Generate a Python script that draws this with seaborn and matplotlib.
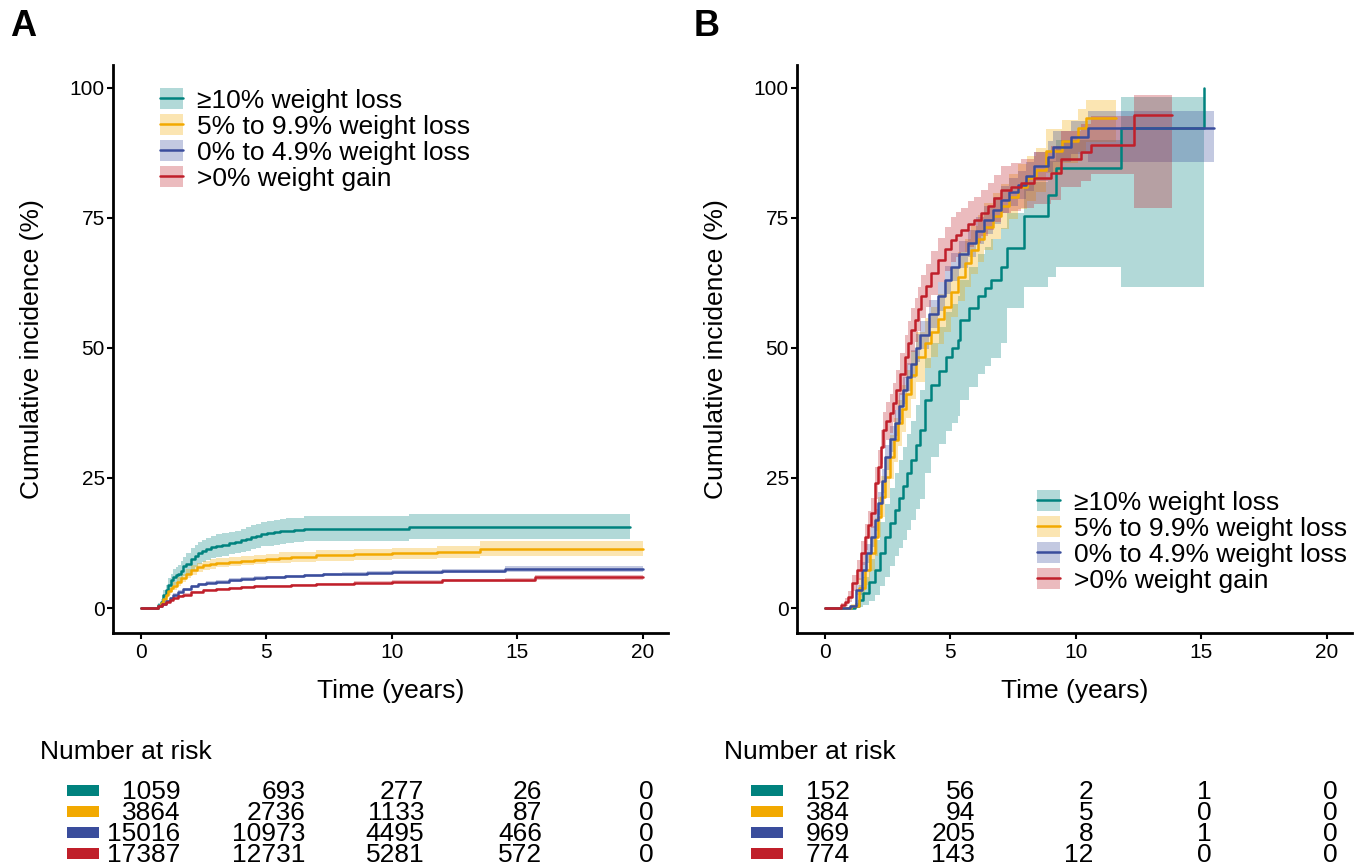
import matplotlib
matplotlib.use("Agg")
import matplotlib.pyplot as plt
import matplotlib.transforms as mtransforms
from matplotlib.font_manager import FontProperties
from matplotlib.patches import Patch, Rectangle
from matplotlib.lines import Line2D
import numpy as np
import seaborn as sns

sns.set_theme(style="ticks")
plt.rcParams['font.family'] = ['Liberation Sans', 'DejaVu Sans']
plt.rcParams['axes.edgecolor'] = 'black'
plt.rcParams['xtick.color'] = 'black'
plt.rcParams['ytick.color'] = 'black'
plt.rcParams['text.color'] = 'black'
plt.rcParams['axes.labelcolor'] = 'black'

# groups and colours
groups = ["≥10% weight loss", "5% to 9.9% weight loss", "0% to 4.9% weight loss", ">0% weight gain"]
colors = ["#00827E", "#F2A900", "#3A4D9C", "#C01F2A"]

# ---- panel A: cumulative incidence (%), with CI half-widths ----
a_teal_t = [0, 0.7, 0.8, 0.9, 1.0, 1.1, 1.2, 1.3, 1.4, 1.5, 1.6, 1.7, 1.8, 2.0, 2.15, 2.3, 2.45, 2.6, 2.8, 3.0,
            3.25, 3.5, 3.75, 4.0, 4.2, 4.4, 4.6, 4.8, 5.05, 5.3, 5.55, 5.8, 6.1, 6.5, 10.7, 19.5]
a_teal_v = [0, 0.5, 1.2, 2.5, 3.5, 4.5, 5.3, 6.0, 6.3, 6.5, 7.2, 8.0, 8.5, 9.5, 10.0, 10.5, 10.9, 11.3, 11.7, 12.0,
            12.2, 12.5, 12.7, 13.0, 13.3, 13.6, 13.9, 14.2, 14.4, 14.6, 14.8, 14.9, 15.0, 15.2, 15.6, 15.6]
a_teal_half = [0, 0.4, 0.6, 0.9, 1.0, 1.2, 1.3, 1.5, 1.6, 1.7, 1.8, 1.9, 2.0, 2.1, 2.1, 2.1, 2.1, 2.1, 2.1, 2.2,
               2.2, 2.2, 2.2, 2.2, 2.3, 2.3, 2.3, 2.3, 2.4, 2.4, 2.4, 2.4, 2.4, 2.4, 2.4, 2.4]

a_orange_t = [0, 0.7, 0.8, 0.9, 1.0, 1.1, 1.2, 1.3, 1.45, 1.6, 1.8, 2.0, 2.25, 2.5, 2.75, 3.0, 3.5, 4.0, 4.5, 5.0,
              5.5, 6.0, 7.0, 8.5, 10.0, 11.8, 13.5, 20.0]
a_orange_v = [0, 0.4, 1.0, 1.8, 2.5, 3.2, 3.8, 4.3, 5.1, 5.8, 6.6, 7.3, 7.8, 8.2, 8.5, 8.7, 8.9, 9.1, 9.3, 9.5,
              9.7, 9.8, 10.1, 10.3, 10.5, 10.8, 11.4, 11.4]
a_orange_half = [0, 0.2, 0.3, 0.5, 0.6, 0.7, 0.7, 0.8, 0.8, 0.8, 0.9, 0.9, 0.9, 0.9, 0.9, 0.9, 0.9, 0.9, 0.9, 0.9,
                 1.0, 1.0, 1.0, 1.0, 1.1, 1.1, 1.4, 1.4]

a_blue_t = [0, 0.7, 0.85, 1.0, 1.15, 1.3, 1.5, 1.7, 2.0, 2.3, 2.6, 3.0, 3.5, 4.0, 4.5, 5.0, 5.75, 6.5, 7.25, 8.0,
            9.0, 10.0, 11.0, 12.0, 14.5, 20.0]
a_blue_v = [0, 0.3, 0.8, 1.3, 1.9, 2.5, 3.1, 3.6, 4.2, 4.6, 4.9, 5.1, 5.4, 5.6, 5.8, 5.9, 6.1, 6.3, 6.5, 6.6,
            6.8, 6.9, 7.0, 7.1, 7.5, 7.5]
a_blue_half = [0, 0.1, 0.1, 0.2, 0.2, 0.3, 0.3, 0.3, 0.3, 0.3, 0.3, 0.3, 0.3, 0.3, 0.3, 0.3, 0.3, 0.3, 0.3, 0.3,
               0.35, 0.4, 0.4, 0.4, 0.5, 0.5]

a_red_t = [0, 0.7, 0.85, 1.0, 1.15, 1.3, 1.5, 1.7, 2.0, 2.5, 3.0, 3.5, 4.0, 4.5, 5.0, 6.0, 7.0, 8.5, 10.0, 12.0,
           14.5, 15.7, 20.0]
a_red_v = [0, 0.3, 0.7, 1.2, 1.6, 1.9, 2.3, 2.6, 3.0, 3.4, 3.7, 3.9, 4.0, 4.2, 4.3, 4.5, 4.7, 4.9, 5.1, 5.3,
           5.4, 5.9, 5.9]
a_red_half = [0, 0.1, 0.15, 0.2, 0.2, 0.2, 0.2, 0.2, 0.2, 0.2, 0.2, 0.2, 0.2, 0.2, 0.2, 0.2, 0.2, 0.25, 0.3, 0.3,
              0.35, 0.5, 0.5]

# ---- panel B: cumulative incidence (%), CI lower / upper ----
b_teal_t = [0, 1.2, 1.37, 1.53, 1.77, 2.0, 2.2, 2.4, 2.6, 2.8, 2.96, 3.13, 3.3, 3.45, 3.62, 3.78, 3.98, 4.25,
            4.55, 4.84, 5.07, 5.3, 5.4, 5.75, 6.1, 6.37, 6.63, 7.02, 7.27, 7.93, 8.9, 9.2, 11.8, 15.1]
b_teal_v = [0, 0.3, 1.5, 2.9, 5.0, 7.3, 10.5, 13.7, 16.3, 18.9, 21.2, 23.4, 26.0, 28.5, 31.4, 34.3, 40.0, 42.9,
            45.6, 48.3, 50.0, 51.5, 55.4, 57.6, 59.9, 61.5, 63.0, 65.6, 69.2, 75.4, 79.4, 84.6, 92.2, 100]
b_teal_lo = [0, 0, 0.2, 0.5, 1.4, 2.5, 4.2, 6.0, 8.0, 10.0, 11.5, 13.0, 15.0, 17.0, 19.0, 21.0, 26.0, 29.0,
             31.5, 34.0, 35.5, 37.0, 40.0, 42.5, 45.0, 46.5, 48.0, 51.0, 57.7, 61.8, 63.7, 65.6, 61.8, 61.8]
b_teal_hi = [0, 1.0, 3.5, 6.0, 9.5, 13.0, 16.5, 20.0, 23.0, 26.0, 28.5, 31.0, 33.5, 36.0, 39.0, 42.0, 48.0, 51.0,
             54.0, 57.0, 58.5, 60.0, 63.0, 65.5, 68.0, 69.5, 71.0, 73.0, 76.0, 82.0, 86.0, 90.0, 98.3, 98.3]

b_orange_t = [0, 1.07, 1.35, 1.6, 1.8, 2.0, 2.13, 2.26, 2.42, 2.59, 2.76, 2.93, 3.1, 3.26, 3.45, 3.65, 3.98, 4.25,
              4.51, 4.77, 5.04, 5.3, 5.57, 5.83, 6.1, 6.36, 6.7, 7.02, 7.35, 7.69, 8.05, 8.41, 8.8, 9.47, 10.07,
              10.4, 11.6]
b_orange_v = [0, 0.3, 3.8, 7.3, 10.5, 13.7, 17.5, 21.4, 25.2, 29.0, 32.3, 35.5, 38.3, 41.2, 44.8, 48.3, 51.0, 53.0,
              55.5, 57.9, 60.8, 63.7, 66.3, 68.8, 71.0, 73.3, 75.3, 77.2, 79.1, 81.0, 82.6, 84.2, 87.8, 89.7, 92.2,
              94.2, 94.2]
b_orange_lo = [0, 0, 1.8, 4.5, 7.2, 10.0, 13.7, 17.5, 21.2, 24.8, 28.0, 31.1, 33.8, 36.6, 40.1, 43.5, 46.2, 48.2,
               50.7, 53.1, 56.0, 59.0, 61.7, 64.2, 66.5, 68.8, 70.9, 72.8, 74.8, 76.7, 78.3, 79.9, 83.6, 85.5, 87.7,
               89.6, 89.6]
b_orange_hi = [0, 0.7, 5.8, 10.1, 13.8, 17.4, 21.3, 25.3, 29.2, 33.2, 36.6, 39.9, 42.8, 45.8, 49.5, 53.1, 55.8, 57.8,
               60.3, 62.7, 65.6, 68.4, 70.9, 73.4, 75.5, 77.8, 79.7, 81.6, 83.4, 85.3, 86.9, 88.5, 92.0, 93.9, 95.9,
               97.7, 97.7]

b_blue_t = [0, 1.0, 1.25, 1.47, 1.66, 1.86, 2.0, 2.13, 2.27, 2.4, 2.6, 2.8, 2.96, 3.13, 3.3, 3.45, 3.62, 3.8,
            4.15, 4.51, 4.78, 5.04, 5.37, 5.7, 6.03, 6.36, 6.7, 7.02, 7.35, 7.69, 8.02, 8.35, 8.88, 9.1, 9.8,
            10.5, 15.5]
b_blue_v = [0, 0.3, 3.5, 7.3, 10.5, 13.7, 17.0, 20.1, 24.5, 29.0, 32.5, 35.5, 38.8, 41.9, 44.5, 47.0, 50.0, 52.5,
            56.5, 59.9, 63.0, 65.6, 68.0, 70.1, 72.5, 74.6, 76.5, 78.5, 80.0, 81.4, 83.0, 84.9, 86.8, 88.7, 90.5,
            92.2, 92.2]
b_blue_lo = [0, 0.1, 2.5, 5.8, 8.7, 11.7, 14.9, 17.9, 22.2, 26.6, 30.0, 33.0, 36.2, 39.3, 41.8, 44.3, 47.3, 49.8,
             53.8, 57.2, 60.3, 62.9, 65.4, 67.5, 69.9, 72.0, 73.9, 75.9, 77.3, 78.7, 80.2, 82.1, 83.8, 85.7, 87.3,
             85.8, 85.8]
b_blue_hi = [0, 0.5, 4.5, 8.8, 12.3, 15.7, 19.1, 22.3, 26.8, 31.4, 35.0, 38.0, 41.4, 44.5, 47.2, 49.7, 52.7, 55.2,
             59.2, 62.6, 65.7, 68.3, 70.6, 72.7, 75.1, 77.2, 79.1, 81.1, 82.7, 84.1, 85.8, 87.7, 89.8, 91.7, 93.7,
             95.6, 95.6]

b_red_t = [0, 0.67, 0.8, 0.94, 1.1, 1.27, 1.45, 1.6, 1.73, 1.86, 2.02, 2.13, 2.23, 2.33, 2.46, 2.59, 2.72, 2.86,
           3.02, 3.19, 3.32, 3.45, 3.6, 3.72, 3.85, 4.05, 4.25, 4.51, 4.78, 5.04, 5.24, 5.44, 5.7, 5.96, 6.23, 6.5,
           6.76, 7.02, 7.42, 7.82, 8.35, 9.0, 9.4, 10.2, 10.6, 12.3, 13.85]
b_red_v = [0, 0.5, 1.2, 2.2, 4.8, 7.3, 10.5, 13.7, 16.0, 18.2, 24.0, 27.2, 31.0, 34.2, 36.0, 37.4, 39.5, 41.9,
           45.0, 48.3, 51.0, 53.5, 55.4, 57.5, 59.9, 62.0, 64.4, 66.9, 69.0, 70.8, 71.8, 72.7, 73.8, 74.6, 76.0, 77.2,
           78.8, 80.4, 81.0, 81.7, 82.6, 83.6, 86.3, 87.6, 89.0, 94.7, 94.7]
b_red_lo = [0, 0, 0.4, 1.2, 3.3, 5.3, 8.2, 11.2, 13.3, 15.3, 20.9, 24.0, 27.7, 30.7, 32.4, 33.7, 35.7, 38.0,
            41.0, 44.2, 46.8, 49.3, 51.2, 53.3, 55.7, 57.8, 60.2, 62.7, 64.8, 66.5, 67.5, 68.4, 69.4, 70.2, 71.6, 72.7,
            74.3, 75.9, 76.4, 77.0, 77.6, 78.4, 80.9, 82.1, 83.5, 77.0, 77.0]
b_red_hi = [0, 1.0, 2.0, 3.2, 6.3, 9.3, 12.8, 16.2, 18.7, 21.1, 27.1, 30.4, 34.3, 37.7, 39.6, 41.1, 43.3, 45.8,
            49.0, 52.4, 55.2, 57.7, 59.6, 61.7, 64.1, 66.2, 68.6, 71.1, 73.2, 75.1, 76.1, 77.0, 78.2, 79.0, 80.4, 81.7,
            83.3, 84.9, 85.6, 86.4, 87.6, 88.8, 91.7, 93.1, 94.5, 98.7, 98.7]

# ---- number at risk ----
risk_times = [0, 5, 10, 15, 20]
a_risk = [[1059, 693, 277, 26, 0],
          [3864, 2736, 1133, 87, 0],
          [15016, 10973, 4495, 466, 0],
          [17387, 12731, 5281, 572, 0]]
b_risk = [[152, 56, 2, 1, 0],
          [384, 94, 5, 0, 0],
          [969, 205, 8, 1, 0],
          [774, 143, 12, 0, 0]]


def sym(t, v, half):
    v = np.array(v)
    half = np.array(half)
    return (t, v, v - half, v + half)


a_series = [sym(a_teal_t, a_teal_v, a_teal_half),
            sym(a_orange_t, a_orange_v, a_orange_half),
            sym(a_blue_t, a_blue_v, a_blue_half),
            sym(a_red_t, a_red_v, a_red_half)]
b_series = [(b_teal_t, b_teal_v, b_teal_lo, b_teal_hi),
            (b_orange_t, b_orange_v, b_orange_lo, b_orange_hi),
            (b_blue_t, b_blue_v, b_blue_lo, b_blue_hi),
            (b_red_t, b_red_v, b_red_lo, b_red_hi)]

W, H = 1366, 867
FS = 19        # titles, legend, risk table
TICK_FS = 15
DPI = 100
EM = FS * DPI / 72  # font size in pixels

fig = plt.figure(figsize=(W / DPI, H / DPI), dpi=DPI)
renderer = fig.canvas.get_renderer()
_, lp_h, lp_d = renderer.get_text_width_height_descent(
    "lp", FontProperties(family=plt.rcParams['font.family'], size=FS), ismath=False)


def box(l, t, r, b):
    return [l / W, 1 - b / H, (r - l) / W, (b - t) / H]


def draw_panel(left, series, risk, letter, leg_xy):
    ax = fig.add_axes(box(left, 65, left + 555, 633))
    for (t, v, lo, hi), c in zip(series, colors):
        ax.fill_between(t, lo, hi, step='post', color=c, alpha=0.3, linewidth=0)
    for (t, v, lo, hi), c in zip(series, colors):
        sns.lineplot(x=t, y=v, ax=ax, color=c, linewidth=1.8, drawstyle='steps-post',
                     errorbar=None, sort=False)
    ax.set_xlim(-1.1, 21.0)
    ax.set_ylim(-4.8, 104.4)
    ax.set_xticks(risk_times)
    ax.set_yticks([0, 25, 50, 75, 100])
    ax.tick_params(labelsize=TICK_FS, length=4.5, width=1.5, pad=1.5, direction='out')
    ax.tick_params(axis='x', pad=3)
    for s in ['top', 'right']:
        ax.spines[s].set_visible(False)
    for s in ['left', 'bottom']:
        ax.spines[s].set_linewidth(2.0)
    ax.set_xlabel("Time (years)", fontsize=FS)
    ax.set_ylabel("Cumulative incidence (%)", fontsize=FS)
    ax.xaxis.set_label_coords(0.5, -(679 - 633) / 568)
    ax.yaxis.set_label_coords((44 - 113) / 555, 0.5)

    handles = [(Patch(facecolor=c, alpha=0.3, edgecolor='none'), Line2D([], [], color=c, lw=1.8))
               for c in colors]
    ax.legend(handles, groups, loc='upper left', bbox_to_anchor=(leg_xy[0] / W, 1 - leg_xy[1] / H),
              bbox_transform=fig.transFigure, frameon=False, fontsize=FS, borderpad=0,
              borderaxespad=0, handlelength=0.87, handleheight=0.83, handletextpad=0.53,
              labelspacing=0.06)

    fig.text((left - 103) / W, 1 - 26 / H, letter, fontsize=26, fontweight='bold', va='center')

    # risk table, y in pixels from the top of the figure
    axt = fig.add_axes(box(left, 720, left + 555, 867))
    axt.set_xlim(-1.1, 21.0)
    axt.set_ylim(867, 720)
    axt.axis('off')
    trans_y = axt.get_yaxis_transform()
    base = 0.358 * EM  # from digit centre to baseline
    axt.text(-73 / 555, 750 + base, "Number at risk", transform=trans_y, fontsize=FS,
             ha='left', va='baseline')
    row_y = [790, 811, 832, 853]
    # baseline step of a multi-line text = ascent * linespacing + descent
    spacing = (row_y[1] - row_y[0] - lp_d) / (lp_h - lp_d)
    dw = 0.556 * EM
    for j, tt in enumerate(risk_times):
        col = [str(r[j]) for r in risk]
        nmax = max(len(s) for s in col)
        tr = mtransforms.offset_copy(axt.transData, fig=fig, x=nmax * dw / 2 + 3, y=0, units='dots')
        axt.text(tt, row_y[-1] + base, "\n".join(col), transform=tr, fontsize=FS, ha='right',
                 va='baseline', multialignment='right', linespacing=spacing)
    for i, c in enumerate(colors):
        axt.add_patch(Rectangle((-46 / 555, row_y[i] - 5.5), 32 / 555, 11, transform=trans_y,
                                facecolor=c, edgecolor='none', clip_on=False))


draw_panel(113, a_series, a_risk, "A", (160, 88))
draw_panel(797, b_series, b_risk, "B", (1037, 490))

fig.savefig("out.png", dpi=DPI)
